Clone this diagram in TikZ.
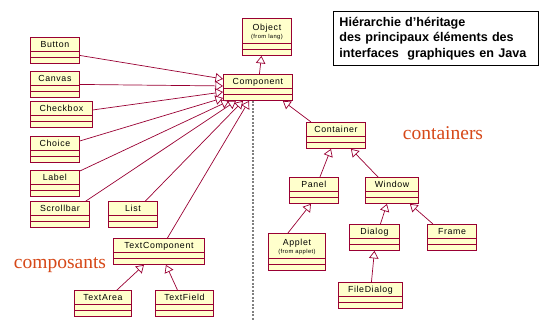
\documentclass[tikz,border=0pt]{standalone}
\usepackage{fontspec}
\usetikzlibrary{arrows.meta}
\newfontfamily\umlfont[LetterSpace=7]{Liberation Sans}
\newfontfamily\titlefont{Liberation Sans}
\newfontfamily\notefont{Liberation Serif}
\definecolor{umlred}{RGB}{153,0,51}
\definecolor{umlyellow}{RGB}{255,255,204}
\definecolor{notered}{RGB}{214,72,24}
\begin{document}
\begin{tikzpicture}[x=1pt,y=-1pt,>={Triangle[fill=white,length=7.5pt,width=9.5pt]},
    class/.style={draw=umlred,fill=umlyellow,line width=0.9pt,anchor=north west,inner sep=0pt,minimum height=26pt,text height=7pt,text depth=12pt,text=black,font=\umlfont\fontsize{8.8}{10}\selectfont},
    pkgclass/.style={class,minimum height=37pt,text depth=20pt},
    inherit/.style={->,umlred,line width=0.7pt},
    note/.style={font=\notefont\fontsize{19.5}{22}\selectfont,text=notered}]
    \useasboundingbox (0,0) rectangle (541,320);
    \node[draw,line width=0.8pt,anchor=north west,minimum width=205pt,minimum height=54pt,inner xsep=6pt,text width=193pt,align=left,font=\titlefont\bfseries\fontsize{12.6}{15.5}\selectfont](title) at (333,11){Hiérarchie d’héritage\\des principaux éléments des\\interfaces\ \ graphiques en Java};
    \node[note](containers) at (443,133){containers};
    \node[note](composants) at (60,265){composants};
    \node[pkgclass,minimum width=49pt](object) at (242,18){\begin{tabular}[t]{@{}c@{}}Object\\[-1.5pt]{\fontsize{5.8}{6}\selectfont(from lang)}\end{tabular}};
    \node[class,minimum width=69pt](component) at (223,74){Component};
    \node[class,minimum width=49pt](button) at (30,37){Button};
    \node[class,minimum width=49pt](canvas) at (30,71){Canvas};
    \node[class,minimum width=62pt](checkbox) at (30,101){Checkbox};
    \node[class,minimum width=49pt](choice) at (30,136){Choice};
    \node[class,minimum width=49pt](label) at (30,170){Label};
    \node[class,minimum width=59pt](scrollbar) at (30,201){Scrollbar};
    \node[class,minimum width=49pt](list) at (108,201){List};
    \node[class,minimum width=91pt](textcomponent) at (113,238){TextComponent};
    \node[class,minimum width=57pt](textarea) at (74,290){TextArea};
    \node[class,minimum width=58pt](textfield) at (155,290){TextField};
    \node[class,minimum width=59pt](container) at (306,122){Container};
    \node[class,minimum width=49pt](panel) at (289,177){Panel};
    \node[class,minimum width=53pt](window) at (365,177){Window};
    \node[pkgclass,minimum width=57pt](applet) at (268,233){\begin{tabular}[t]{@{}c@{}}Applet\\[-1.5pt]{\fontsize{5.8}{6}\selectfont(from applet)}\end{tabular}};
    \node[class,minimum width=50pt](dialog) at (349,224){Dialog};
    \node[class,minimum width=49pt](frame) at (427,224){Frame};
    \node[class,minimum width=64pt](filedialog) at (338,282){FileDialog};
    \foreach \cls in {object,component,button,canvas,checkbox,choice,label,scrollbar,list,textcomponent,textarea,textfield,container,panel,window,applet,dialog,frame,filedialog}
        \draw[umlred,line width=1pt]([yshift=12pt]\cls.south west)--([yshift=12pt]\cls.south east)([yshift=6pt]\cls.south west)--([yshift=6pt]\cls.south east);
    \coordinate (dashend) at (253,320);
    \draw[gray,line width=1.3pt,dash pattern=on 2pt off 1.5pt](component.south -| dashend)--(dashend);
    \draw[inherit]([xshift=1.5pt]component.north)--([xshift=-5.5pt]object.south);
    \draw[inherit]([yshift=-5pt]button.east)--([yshift=8.5pt]component.west);
    \draw[inherit](canvas.east)--([yshift=1.5pt]component.west);
    \draw[inherit]([yshift=4.5pt]checkbox.east)--([yshift=-4.5pt]component.west);
    \draw[inherit]([yshift=8.5pt]choice.east)--([yshift=-10.5pt]component.west);
    \draw[inherit]([yshift=-1pt]label.north east)--([xshift=6pt]component.south west);
    \draw[inherit]([xshift=-4pt]scrollbar.north east)--([xshift=13pt]component.south west);
    \draw[inherit]([xshift=12.5pt]list.north)--([xshift=20pt]component.south west);
    \draw[inherit]([xshift=8.5pt]textcomponent.north)--([xshift=26pt]component.south west);
    \draw[inherit]([xshift=14pt]textarea.north)--([xshift=-15pt]textcomponent.south);
    \draw[inherit]([xshift=-7pt]textfield.north)--([xshift=7pt]textcomponent.south);
    \draw[inherit]([xshift=5pt]container.north west)--([xshift=-10pt]component.south east);
    \draw[inherit]([xshift=6pt]panel.north)--([xshift=-5pt]container.south);
    \draw[inherit]([xshift=13pt]window.north west)--([xshift=15pt]container.south);
    \draw[inherit]([xshift=-9pt]applet.north)--([xshift=-3pt]panel.south);
    \draw[inherit]([xshift=6pt]dialog.north)--([xshift=-5pt]window.south);
    \draw[inherit]([xshift=6pt]frame.north west)--([xshift=-9pt]window.south east);
    \draw[inherit]([xshift=1pt]filedialog.north)--(dialog.south);
\end{tikzpicture}
\end{document}
